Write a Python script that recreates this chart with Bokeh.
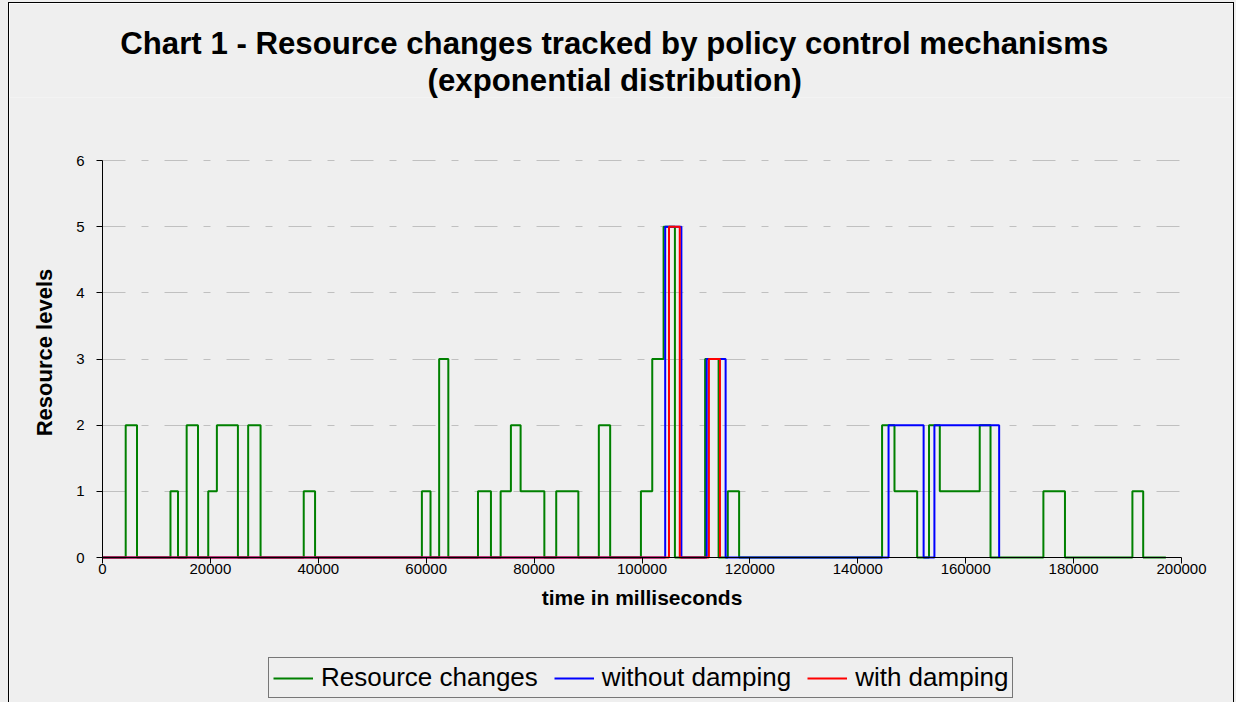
import math
from bokeh.plotting import figure
from bokeh.models import (Range1d, FixedTicker, Legend, LegendItem, Title, Label,
                          BasicTickFormatter, Grid)
from bokeh.embed import file_html
from bokeh.resources import INLINE

FONT = "Liberation Sans"
BG = "#EFEFEF"

# Each series: time (ms) at which the level changes, and the level held from then on
changes_t = [0, 4300, 6400, 12600, 14000, 15600, 17700, 19600, 21200, 25100, 27000, 29300,
             37300, 39400, 59200, 60800, 62400, 64100, 69600, 72000, 73800, 75700, 77500,
             81900, 84100, 88200, 92000, 94100, 99800, 101900, 104000, 106100, 111700,
             114200, 115900, 118000, 144500, 146800, 151000, 153200, 155200, 162600,
             164600, 174400, 178400, 190900, 192900, 197100]
changes_lvl = [0, 2, 0, 1, 0, 2, 0, 1, 2, 0, 2, 0,
               1, 0, 1, 0, 3, 0, 1, 0, 1, 2, 1,
               0, 1, 0, 2, 0, 1, 3, 5, 0, 3,
               0, 1, 0, 2, 1, 0, 2, 1, 2,
               0, 1, 0, 1, 0, 0]

nodamp_t = [0, 104300, 107300, 112000, 115500, 145700, 152200, 154200, 166200]
nodamp_lvl = [0, 5, 0, 3, 0, 2, 0, 2, 0]

damp_t = [0, 105000, 107000, 112400, 114450]
damp_lvl = [0, 5, 0, 3, 0]

x_ticks = list(range(0, 200001, 20000))
y_ticks = [0, 1, 2, 3, 4, 5, 6]

title_line1 = "Chart 1 - Resource changes tracked by policy control mechanisms"
title_line2 = "(exponential distribution)"

# ---- page geometry (pixels) ----
LEFT, TOP = 9, 3                  # canvas origin inside the page (border ring around it)
CANVAS_W, CANVAS_H = 1224, 699
AX_X0, AX_X1 = 102, 1181          # where x = 0 and x = max fall
AX_Y0, AX_Y1 = 557, 160           # where y = 0 and y = max fall
FRAME_TOP = 97                    # everything below the titles is plot frame

X_MIN, X_MAX = x_ticks[0], x_ticks[-1]
Y_MIN, Y_MAX = y_ticks[0], y_ticks[-1]
ms_per_px = (X_MAX - X_MIN) / (AX_X1 - AX_X0)
lvl_per_px = (Y_MAX - Y_MIN) / (AX_Y0 - AX_Y1)

def xdata(px):
    return X_MIN + (px - AX_X0) * ms_per_px

def ydata(py):
    return Y_MIN + (AX_Y0 - py) * lvl_per_px

p = figure(width=CANVAS_W, height=CANVAS_H, output_backend="svg", toolbar_location=None,
           x_range=Range1d(xdata(LEFT), xdata(LEFT + CANVAS_W)),
           y_range=Range1d(ydata(TOP + CANVAS_H), ydata(FRAME_TOP)),
           min_border_left=0, min_border_right=0, min_border_top=FRAME_TOP - TOP,
           min_border_bottom=0,
           background_fill_color=BG, border_fill_color=BG, outline_line_color=None,
           title=None)

# chart border drawn as a ring just outside the canvas, grey beyond it
p.margin = (TOP, 0, 0, LEFT)
p.styles = {"box-shadow": "0 0 0 1px #000000, 0 0 0 14px " + BG}

# two title lines, both centred over the chart area
TITLE_CENTER = 614
TITLE_SIZE = 31.2
for txt, width_em in ((title_line2, 11.98), (title_line1, 31.68)):
    off = TITLE_CENTER - width_em * TITLE_SIZE / 2 - LEFT
    p.add_layout(Title(text=txt, align="left", offset=off, text_font=FONT,
                       text_font_size=f"{TITLE_SIZE}px", text_font_style="bold",
                       text_color="black", standoff=0), "above")

# axes, pinned at the origin
for ax in (p.xaxis, p.yaxis):
    ax.axis_line_color = "black"
    ax.major_tick_line_color = "black"
    ax.major_tick_in = 0
    ax.major_tick_out = 6
    ax.minor_tick_line_color = None
    ax.major_label_text_font = FONT
    ax.major_label_text_font_size = "15px"
    ax.major_label_text_color = "black"

p.xaxis.fixed_location = Y_MIN
p.xaxis.bounds = (X_MIN, X_MAX)
p.xaxis.ticker = FixedTicker(ticks=x_ticks)
p.xaxis.formatter = BasicTickFormatter(use_scientific=False)
p.xaxis.major_label_standoff = 0

p.yaxis.fixed_location = X_MIN
p.yaxis.bounds = (Y_MIN, Y_MAX)
p.yaxis.ticker = FixedTicker(ticks=y_ticks)
p.yaxis.major_label_standoff = 12

# axis titles
p.add_layout(Label(x=(X_MIN + X_MAX) / 2, y=ydata(597), text="time in milliseconds",
                   text_align="center", text_baseline="middle", text_font=FONT,
                   text_font_size="21px", text_font_style="bold", text_color="black"))
p.add_layout(Label(x=xdata(44), y=ydata(352), text="Resource levels",
                   angle=math.pi / 2, text_align="center", text_baseline="middle",
                   text_font=FONT, text_font_size="22px", text_font_style="bold",
                   text_color="black"))

# dashed horizontal grid over the data area only
p.xgrid.grid_line_color = None
p.ygrid.ticker = FixedTicker(ticks=y_ticks)
p.ygrid.grid_line_color = "#C0C0C0"
p.ygrid.grid_line_dash = "23 16 7 16"
p.ygrid.grid_line_width = 1
if "cross_bounds" in Grid.properties():
    p.ygrid.cross_bounds = (X_MIN, X_MAX)

r_changes = p.step(changes_t, changes_lvl, mode="after", line_color="#008000", line_width=2)
r_nodamp = p.step(nodamp_t, nodamp_lvl, mode="after", line_color="#0000FF", line_width=2)
r_damp = p.step(damp_t, damp_lvl, mode="after", line_color="#FF0000", line_width=2)

legend = Legend(items=[LegendItem(label="Resource changes", renderers=[r_changes]),
                       LegendItem(label="without damping", renderers=[r_nodamp]),
                       LegendItem(label="with damping", renderers=[r_damp])],
                orientation="horizontal", location=(268 - LEFT, 4),
                label_text_font=FONT, label_text_font_size="26px",
                label_text_color="black",
                glyph_width=40, glyph_height=28, label_standoff=8, spacing=16,
                padding=4, margin=0,
                border_line_color="black", border_line_width=1,
                background_fill_color=BG, background_fill_alpha=1)
p.add_layout(legend, "center")

open("out.html", "w").write(file_html(p, INLINE))
